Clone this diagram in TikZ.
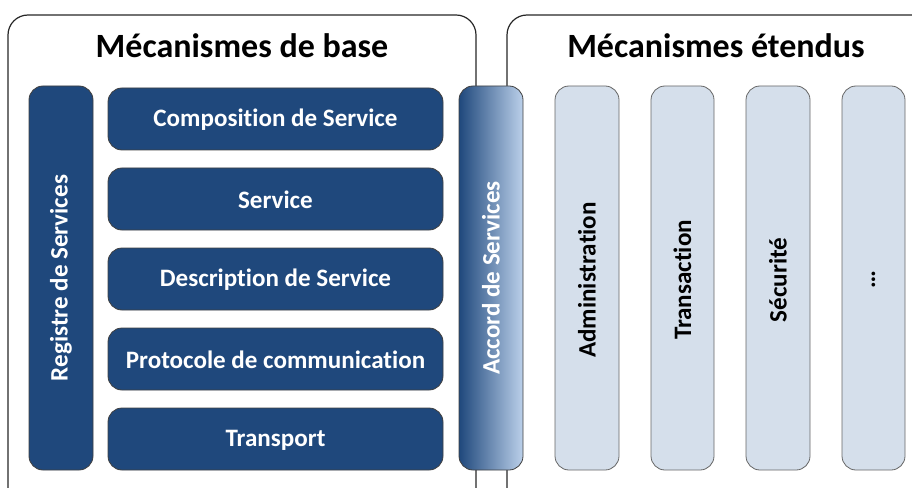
\documentclass[tikz,border=0pt]{standalone}
\usepackage{fontspec}
\setmainfont{Carlito}[Ligatures=NoCommon, Contextuals=NoAlternate]
\newcommand\nti{t\kern0pt i}
\definecolor{dblue}{HTML}{1F487C}
\definecolor{lblue}{HTML}{D5DFEB}
\definecolor{gblue}{HTML}{BBD0EA}
\tikzset{
  container/.style={draw=black!85, line width=0.9pt, rounded corners=15pt},
  darkbox/.style={draw=black!75, line width=0.6pt, fill=dblue, rounded corners=10.5pt},
  lightbox/.style={draw=black!60, line width=0.6pt, fill=lblue, rounded corners=10.5pt},
  gradbox/.style={draw=black!75, line width=0.6pt, left color=dblue, right color=gblue, rounded corners=10.5pt},
  lbl/.style={font=\bfseries\fontsize{18.8}{22}\selectfont, inner sep=0pt},
  wlbl/.style={lbl, text=white},
  titletext/.style={font=\bfseries\fontsize{25.5}{30}\selectfont, text=black}
}
\begin{document}
\begin{tikzpicture}[x=0.75pt,y=-0.75pt]
\useasboundingbox (0,0) rectangle (912,488);
\begin{scope}
\clip (0,0) rectangle (912,488);
\draw[container] (8,15) rectangle (476,510);
\draw[container] (507,15) rectangle (940,510);
\end{scope}
\node[titletext] (t1) at (242,46) {Mécanismes de base};
\node[titletext] (t2) at (716,46) {Mécanismes étendus};
% left column
\path[darkbox] (29,86) rectangle (93,470);
\node[wlbl, rotate=90] (reg) at (61,278) {Registre de Services};
% stacked boxes
\path[darkbox] (108,88) rectangle (443,150);
\node[wlbl] (comp) at (275.5,120) {Composi\nti on de Service};
\path[darkbox] (108,168) rectangle (443,230);
\node[wlbl] (serv) at (275.5,200) {Service};
\path[darkbox] (108,248) rectangle (443,310);
\node[wlbl] (desc) at (275.5,280) {Descrip\nti on de Service};
\path[darkbox] (108,328) rectangle (443,390);
\node[wlbl] (prot) at (275.5,360) {Protocole de communica\nti on};
\path[darkbox] (108,408) rectangle (443,470);
\node[wlbl] (trans) at (275.5,440) {Transport};
% accord
\path[gradbox] (459,86) rectangle (523,470);
\node[wlbl, rotate=90] (acc) at (491,278) {Accord de Services};
% extended
\path[lightbox] (555,86) rectangle (619,470);
\node[lbl, rotate=90] (adm) at (587,280) {Administra\nti on};
\path[lightbox] (651,86) rectangle (714,470);
\node[lbl, rotate=90] (tra) at (682.5,280) {Transac\nti on};
\path[lightbox] (746,86) rectangle (810,470);
\node[lbl, rotate=90] (sec) at (778,280) {Sécurité};
\path[lightbox] (842,86) rectangle (905,470);
\node[lbl, rotate=90] (dots) at (873.5,280) {…};
\end{tikzpicture}
\end{document}
